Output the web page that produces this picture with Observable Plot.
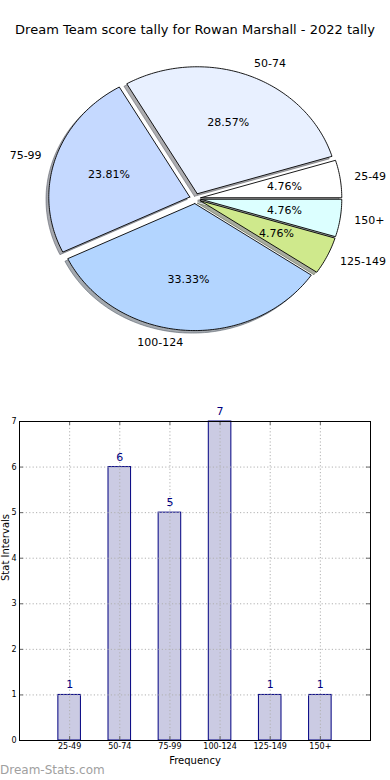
<!DOCTYPE html>
<html><head><meta charset="utf-8">
<script src="https://cdn.jsdelivr.net/npm/d3@7"></script>
<script src="https://cdn.jsdelivr.net/npm/@observablehq/plot@0.6"></script>
<style>
body{margin:0;background:#fff;font-family:"DejaVu Sans",sans-serif;}
#wrap{position:relative;width:390px;height:780px;overflow:hidden;background:#fff;}
#title{position:absolute;left:0;top:22px;width:390px;text-align:center;font-size:13px;line-height:16px;color:#000;}
#pie{position:absolute;left:0;top:40px;}
#bar{position:absolute;left:0;top:395px;}
#mark{position:absolute;left:0;top:762px;font-size:12px;line-height:16px;color:#a0a0a0;}
</style></head><body>
<div id="wrap">
<div id="title">Dream Team score tally for Rowan Marshall - 2022 tally</div>
<div id="pie"></div>
<div id="bar"></div>
<div id="mark">Dream-Stats.com</div>
</div>
<script>
const categories = ["25-49","50-74","75-99","100-124","125-149","150+"];
const counts = [1,6,5,7,1,1];
const sliceColors = ["#ffffff","#e8f0ff","#c5d9ff","#b3d5ff","#cfe98c","#dcffff"];
const yTicks = [0,1,2,3,4,5,6,7];
const xLabel = "Frequency";
const yLabel = "Stat Intervals";

const EXPLODE = 0.04, SHADOW = 0.02, LABEL_R = 1.1, PCT_R = 0.6;
const total = d3.sum(counts);
let acc = 0;
const slices = categories.map((c,i)=>{
  const t1 = acc/total*360; acc += counts[i]; const t2 = acc/total*360;
  const tm = (t1+t2)/2*Math.PI/180;
  return {label:c, count:counts[i], color:sliceColors[i], t1, t2, tm,
    ox: EXPLODE*Math.cos(tm), oy: EXPLODE*Math.sin(tm),
    pct: (counts[i]/total*100).toFixed(2)+"%"};
});
function shade(c){const r=d3.rgb(c); return d3.rgb(r.r*0.3,r.g*0.3,r.b*0.3).formatHex();}
function wedge(s, dx, dy, color){
  const cx = s.ox+dx, cy = s.oy+dy;
  const pts=[{x:cx,y:cy}];
  const n = Math.max(2, Math.ceil(s.t2-s.t1));
  for(let k=0;k<=n;k++){
    const a=(s.t1+(s.t2-s.t1)*k/n)*Math.PI/180;
    pts.push({x:cx+Math.cos(a), y:cy+Math.sin(a)});
  }
  pts.push({x:cx,y:cy});
  return pts.map(p=>({...p, key:s.label, color}));
}
const wedgePts = slices.flatMap(s=>wedge(s,0,0,s.color));
const shadowPts = slices.flatMap(s=>wedge(s,-SHADOW,-SHADOW,shade(s.color)));

const CX = 194.7, CY = 158, RX = 141, RY = 127;
const pie = Plot.plot({
  width:390, height:355, margin:0,
  style:{fontFamily:"DejaVu Sans", background:"transparent", overflow:"visible"},
  x:{domain:[-1,1], range:[CX-RX, CX+RX], axis:null},
  y:{domain:[-1,1], range:[CY+RY, CY-RY], axis:null},
  color:{type:"identity"},
  marks:[
    Plot.line(shadowPts,{x:"x", y:"y", z:"key", fill:"color", fillOpacity:0.45, stroke:"color", strokeOpacity:0.45, strokeWidth:1}),
    Plot.line(wedgePts,{x:"x", y:"y", z:"key", fill:"color", stroke:"black", strokeWidth:0.9, strokeLinejoin:"miter"}),
    Plot.text(slices.filter(d=>Math.cos(d.tm)>=0),{x:d=>d.ox+LABEL_R*Math.cos(d.tm), y:d=>d.oy+LABEL_R*Math.sin(d.tm), text:"label", textAnchor:"start", fontSize:11, fill:"black"}),
    Plot.text(slices.filter(d=>Math.cos(d.tm)<0),{x:d=>d.ox+LABEL_R*Math.cos(d.tm), y:d=>d.oy+LABEL_R*Math.sin(d.tm), text:"label", textAnchor:"end", fontSize:11, fill:"black"}),
    Plot.text(slices,{x:d=>d.ox+PCT_R*Math.cos(d.tm), y:d=>d.oy+PCT_R*Math.sin(d.tm), text:"pct", fontSize:11, fill:"black"})
  ]
});
document.getElementById("pie").append(pie);

const barData = categories.map((c,i)=>({i, cat:c, n:counts[i]}));
const xIdx = categories.map((c,i)=>i);
const HALF = 0.225;
const bar = Plot.plot({
  width:390, height:385, marginTop:26, marginBottom:40, marginLeft:19, marginRight:20,
  style:{fontFamily:"DejaVu Sans", background:"transparent", overflow:"visible"},
  x:{domain:[-1,6], axis:null},
  y:{domain:[0,7], axis:null},
  marks:[
    Plot.rectY(barData,{x1:d=>d.i-HALF, x2:d=>d.i+HALF, y1:0, y2:"n", fill:"#cbcbe3", stroke:"#000080", strokeWidth:1}),
    Plot.ruleX(xIdx,{x:d=>d, stroke:"#b0b0b0", strokeDasharray:"1.2,2.2", strokeWidth:1}),
    Plot.ruleY(yTicks,{y:d=>d, stroke:"#b0b0b0", strokeDasharray:"1.2,2.2", strokeWidth:1}),
    Plot.ruleX(xIdx,{x:d=>d, insetBottom:315, stroke:"#666"}),
    Plot.ruleX(xIdx,{x:d=>d, insetTop:315, stroke:"#666"}),
    Plot.ruleY(yTicks,{y:d=>d, insetRight:347, stroke:"#666"}),
    Plot.ruleY(yTicks,{y:d=>d, insetLeft:347, stroke:"#666"}),
    Plot.frame({stroke:"black", strokeWidth:1}),
    Plot.axisX(xIdx,{tickSize:0, tickPadding:3, fontSize:8, tickFormat:i=>categories[i], label:null, fill:"black"}),
    Plot.axisY(yTicks,{tickSize:0, tickPadding:3, fontSize:8, label:null, fill:"black"}),
    Plot.text(barData,{x:"i", y:"n", text:d=>String(d.n), dy:-10, fill:"#000080", fontSize:11}),
    Plot.text([xLabel],{frameAnchor:"bottom", dy:23, text:d=>d, fontSize:10, fill:"black"}),
    Plot.text([yLabel],{frameAnchor:"left", dx:-14, rotate:-90, text:d=>d, fontSize:10, fill:"black"})
  ]
});
document.getElementById("bar").append(bar);
</script>
</body></html>
